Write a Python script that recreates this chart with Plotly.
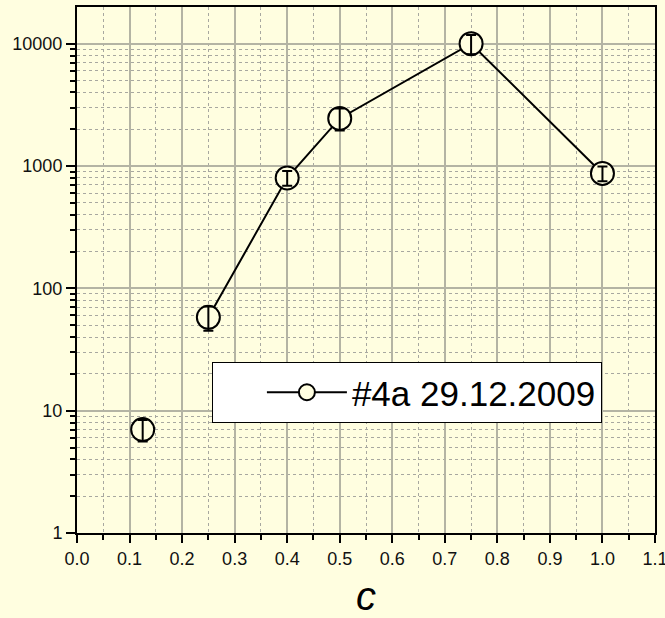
import plotly.graph_objects as go

# data
c_vals = [0.125, 0.25, 0.4, 0.5, 0.75, 1.0]
intensity = [7.0, 58, 800, 2450, 10000, 870]
err = [1.4, 13, 110, 500, 1800, 120]
series_name = "#4a 29.12.2009"
y_tickvals = [1, 10, 100, 1000, 10000]
y_ticktext = ["1", "10", "100", "1000", "10000"]

BG = "#FFFEE0"
FONT = "Liberation Sans, Arial, sans-serif"

fig = go.Figure()

marker_style = dict(symbol="circle", size=23, color=BG, line=dict(color="black", width=2))

fig.add_trace(go.Scatter(
    x=c_vals[1:], y=intensity[1:], mode="lines+markers", name=series_name,
    line=dict(color="black", width=2), marker=marker_style, showlegend=True))
fig.add_trace(go.Scatter(
    x=c_vals[:1], y=intensity[:1], mode="markers", marker=marker_style, showlegend=False))
fig.add_trace(go.Scatter(
    x=c_vals, y=intensity, mode="markers", showlegend=False,
    marker=dict(size=1, color="rgba(0,0,0,0)"),
    error_y=dict(type="data", array=err, visible=True, color="black", thickness=2, width=5)))

grid_col = "#B4B4A4"
minor_col = "#A8A8A0"
tick_font = dict(family=FONT, size=18, color="#111")

fig.update_layout(
    width=665, height=618,
    margin=dict(l=77, r=10, t=7, b=85, autoexpand=False),
    paper_bgcolor=BG, plot_bgcolor=BG,
    font=dict(family=FONT, size=18, color="#111"),
    legend=dict(
        x=(212 - 77) / 578, y=(533 - 362) / 526, xanchor="left", yanchor="top",
        bgcolor="white", bordercolor="black", borderwidth=1,
        font=dict(family=FONT, size=35, color="black"),
        orientation="v", itemwidth=80,
        title=dict(text="&nbsp;&nbsp;&nbsp;&nbsp;", side="left",
                   font=dict(family=FONT, size=35)),
    ),
)

fig.update_xaxes(
    range=[0, 1.1000001], dtick=0.1, tick0=0, tickformat=".1f", tickfont=tick_font,
    automargin=False, ticklabeloverflow="allow",
    showline=True, linecolor="black", linewidth=2, mirror=True,
    ticks="outside", ticklen=8, tickwidth=2, tickcolor="black",
    showgrid=True, gridcolor=grid_col, gridwidth=1.5, zeroline=False,
    minor=dict(dtick=0.05, ticks="outside", ticklen=5, tickwidth=2, tickcolor="black",
               showgrid=True, gridcolor=minor_col, griddash="dot", gridwidth=1),
    title=dict(text="<i>c</i>", font=dict(size=40, family=FONT, color="black"), standoff=18),
)

fig.update_yaxes(
    type="log", range=[0, 4.3], tickvals=y_tickvals, ticktext=y_ticktext, tickfont=tick_font,
    automargin=False,
    showline=True, linecolor="black", linewidth=2, mirror=True,
    ticks="outside", ticklen=9, tickwidth=2, tickcolor="black",
    showgrid=True, gridcolor=grid_col, gridwidth=1.5, zeroline=False,
    minor=dict(dtick="D1", ticks="outside", ticklen=5, tickwidth=2, tickcolor="black",
               showgrid=True, gridcolor=minor_col, griddash="dot", gridwidth=1),
)

fig.write_html("out.html")
